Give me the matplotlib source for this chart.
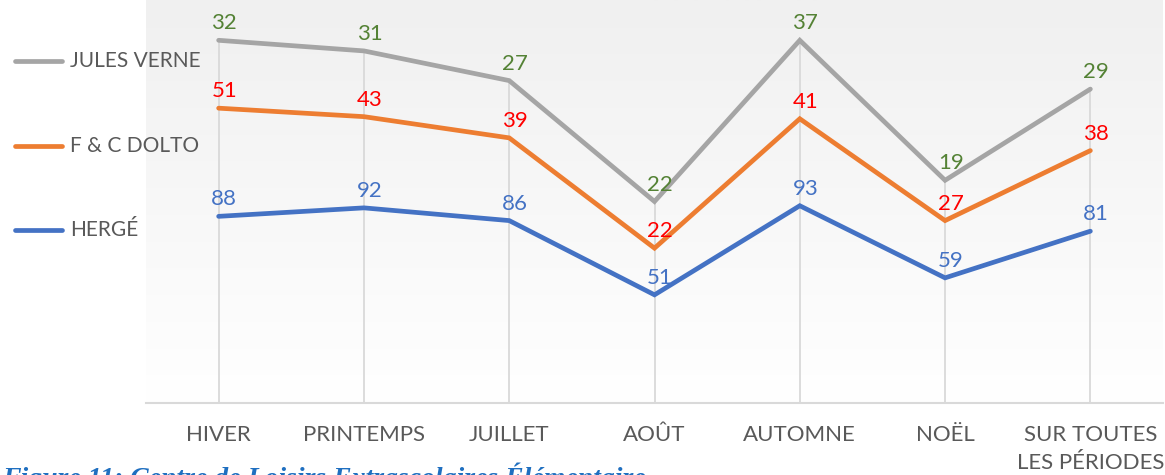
import numpy as np
import matplotlib.pyplot as plt

plt.rcParams['font.family'] = ['Lato', 'DejaVu Sans']

categories = ['HIVER', 'PRINTEMPS', 'JUILLET', 'AOÛT', 'AUTOMNE', 'NOËL', 'SUR TOUTES\nLES PÉRIODES']
herge = [88, 92, 86, 51, 93, 59, 81]
dolto = [51, 43, 39, 22, 41, 27, 38]
verne = [32, 31, 27, 22, 37, 19, 29]

series_names = ['HERGÉ', 'F & C DOLTO', 'JULES VERNE']
line_colors = ['#4472C4', '#ED7D31', '#A5A5A5']
label_colors = ['#4472C4', '#FF0000', '#548235']

fig = plt.figure(figsize=(11.65, 4.75), dpi=100)
ax = fig.add_axes([146 / 1165, 72 / 475, 1017 / 1165, 403 / 475])

x = np.arange(len(categories))
values = [herge, dolto, verne]
# stacked line chart: each series sits on top of the previous ones
stacked = np.cumsum(np.array(values), axis=0)

ax.set_xlim(-0.5, len(categories) - 0.5)
ax.set_ylim(0, 190)

# gradient plot area, light gray at the bottom to white at the top
grad = np.linspace(1, 0, 256).reshape(-1, 1)
ax.imshow(grad, extent=[-0.5, len(categories) - 0.5, 0, 190], aspect='auto',
          cmap=plt.matplotlib.colors.LinearSegmentedColormap.from_list('g', ['#ffffff', '#f0f0f0']),
          zorder=0)

# drop lines
ax.vlines(x, 0, stacked[-1], color='#d9d9d9', lw=1.3, zorder=1)

for i in range(3):
    ax.plot(x, stacked[i], color=line_colors[i], lw=3.4, solid_capstyle='round',
            solid_joinstyle='miter', zorder=3)
    for xi, yi, v in zip(x, stacked[i], values[i]):
        ax.annotate(str(v), (xi, yi), xytext=(4, 5), textcoords='offset points',
                    ha='center', va='bottom', fontsize=16, color=label_colors[i], zorder=4)

for s in ['top', 'right', 'left']:
    ax.spines[s].set_visible(False)
ax.spines['bottom'].set_color('#d9d9d9')
ax.spines['bottom'].set_linewidth(1.5)
ax.set_yticks([])
ax.set_xticks(x)
ax.set_xticklabels(categories, fontsize=16, color='#595959', linespacing=1.5)
ax.tick_params(axis='x', length=0, pad=16)

# legend on the left
leg_y = [230, 146, 61]
for i in range(3):
    yf = 1 - leg_y[i] / 475
    fig.add_artist(plt.Line2D([15 / 1165, 62 / 1165], [yf, yf], color=line_colors[i], lw=3.4,
                              solid_capstyle='round'))
    fig.text(70 / 1165, yf, series_names[i], fontsize=15, color='#595959', va='center', ha='left')

# caption below the chart, cut off by the lower edge as in the source
fig.text(2 / 1165, 13 / 475, 'Figure 11: Centre de Loisirs Extrascolaires Élémentaire',
         fontsize=20, color='#1F6FC0', family='Liberation Serif', style='italic',
         weight='bold', va='top', ha='left')

fig.savefig('out.png', dpi=100)
